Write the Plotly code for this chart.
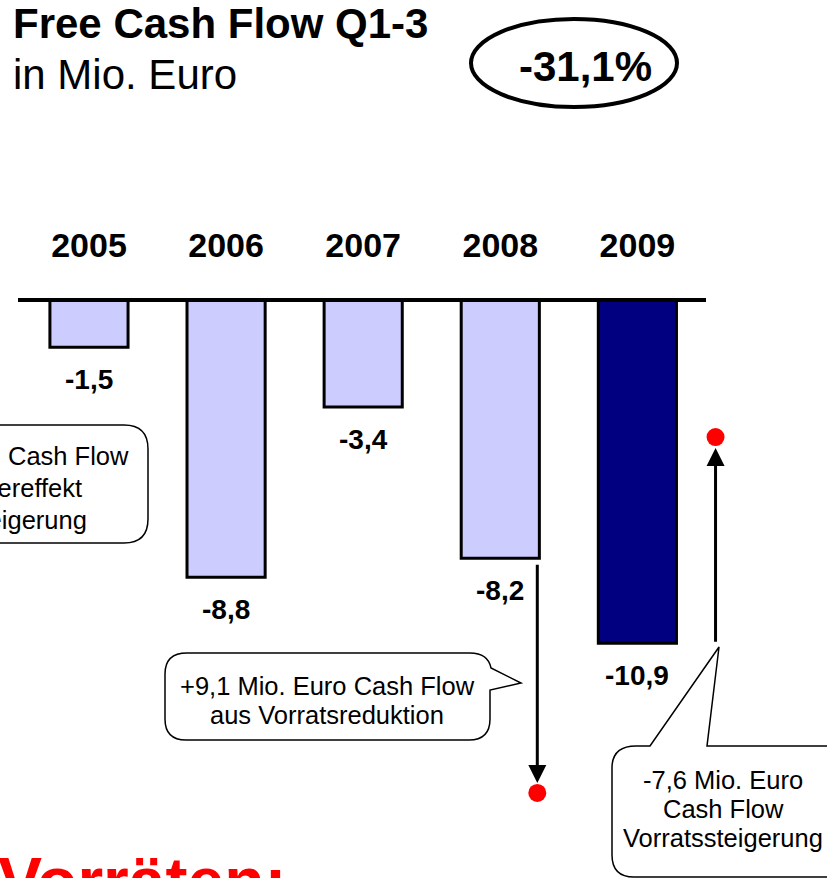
import plotly.graph_objects as go

# Free Cash Flow Q1-3, in Mio. Euro
years = ["2005", "2006", "2007", "2008", "2009"]
fcf = [-1.5, -8.8, -3.4, -8.2, -10.9]

# inventory effect arrows (2008 reduction, 2009 increase)
effect_x = [3.27, 4.57]
effect_from = [fcf[3], fcf[4]]
effect_to = [-15.65, -4.35]

change_label = "-31,1%"

W, H = 827, 878
FONT = "Liberation Sans, Arial, sans-serif"
light = "#CCCCFF"
dark = "#000080"


def px(x):
    return x / W


def py(y):
    return 1 - y / H


def path(points):
    # points in pixels; "Q" entries are (ctrl, end) pairs
    s = ""
    for i, p in enumerate(points):
        if p[0] == "Q":
            (cx, cy), (ex, ey) = p[1], p[2]
            s += f" Q {px(cx):.5f},{py(cy):.5f} {px(ex):.5f},{py(ey):.5f}"
        else:
            s += f" {'M' if i == 0 else 'L'} {px(p[0]):.5f},{py(p[1]):.5f}"
    return s + " Z"


def label(text, x, y, font, xanchor="center", yanchor="middle"):
    return dict(x=px(x), y=py(y), xref="paper", yref="paper", showarrow=False,
                xanchor=xanchor, yanchor=yanchor, text=text, font=font)


idx = list(range(len(years)))
fig = go.Figure()
fig.add_trace(go.Bar(
    x=idx, y=fcf, width=0.57,
    marker=dict(color=[light] * 4 + [dark], line=dict(color="black", width=3)),
    hoverinfo="skip",
))
fig.add_trace(go.Scatter(
    x=effect_x, y=effect_to, mode="markers",
    marker=dict(color="#FF0000", size=18), hoverinfo="skip",
))

annotations = []
# value labels under the bars
for i, v in enumerate(fcf):
    annotations.append(dict(
        x=i, y=v, xref="x", yref="y", yshift=-32, showarrow=False,
        xanchor="center", yanchor="middle",
        text=f"{v:.1f}".replace(".", ","),
        font=dict(family=FONT, size=28, color="black", weight="bold"),
    ))
# arrows to the red dots
for x, a, b, ss, so in zip(effect_x, effect_from, effect_to, [5, 0], [10, 11]):
    annotations.append(dict(
        x=x, y=b, ax=x, ay=a, xref="x", yref="y", axref="x", ayref="y",
        showarrow=True, arrowhead=2, arrowsize=1.2, arrowwidth=3,
        arrowcolor="black", standoff=so, startstandoff=ss, text="",
    ))

# title and change
annotations += [
    label("Free Cash Flow Q1-3", 11, 23,
          dict(family=FONT, size=42, color="black", weight="bold"), xanchor="left"),
    label("in Mio. Euro", 11, 74, dict(family=FONT, size=42, color="black"),
          xanchor="left"),
    label(change_label, 585, 66,
          dict(family=FONT, size=42, color="black", weight="bold")),
]

# callout texts, one line each
small = dict(family=FONT, size=25.5, color="black")
for txt, xr, yc in [("Cash Flow", 131, 456),
                    ("Sondereffekt", 84, 488),
                    ("Vorratssteigerung", 89, 520)]:
    annotations.append(label(txt, xr, yc, small, xanchor="right"))
for txt, yc in [("+9,1 Mio. Euro Cash Flow", 686), ("aus Vorratsreduktion", 715)]:
    annotations.append(label(txt, 327, yc, small))
for txt, yc in [("-7,6 Mio. Euro", 780), ("Cash Flow", 809), ("Vorratssteigerung", 838)]:
    annotations.append(label(txt, 723, yc, small))

# red text at the bottom
annotations.append(label("Vorräten:", 289, 842,
                         dict(family=FONT, size=66, color="#FF0000", weight="bold"),
                         xanchor="right", yanchor="top"))

shapes = [
    # baseline
    dict(type="line", xref="paper", yref="y", x0=px(18), x1=px(706), y0=0, y1=0,
         line=dict(color="black", width=4), layer="above"),
    # ellipse around the change
    dict(type="circle", xref="paper", yref="paper", x0=px(471), x1=px(677),
         y0=py(107), y1=py(19), line=dict(color="black", width=4)),
    # left callout (cut off)
    dict(type="path", xref="paper", yref="paper", line=dict(color="black", width=1.5),
         path=path([(-60, 425), (124, 425), ("Q", (148, 425), (148, 449)),
                    (148, 519), ("Q", (148, 543), (124, 543)), (-60, 543)])),
    # middle callout pointing at the 2008 arrow
    dict(type="path", xref="paper", yref="paper", line=dict(color="black", width=1.5),
         path=path([(187, 653), (470, 653), ("Q", (488, 653), (491, 668)),
                    (521, 683), (490, 690), (490, 719), ("Q", (490, 740), (469, 740)),
                    (186, 740), ("Q", (165, 740), (165, 719)), (165, 674),
                    ("Q", (165, 653), (187, 653))])),
    # right callout pointing at the 2009 arrow
    dict(type="path", xref="paper", yref="paper", line=dict(color="black", width=1.5),
         path=path([(636, 746), (650, 746), (719, 647), (707, 746), (840, 746),
                    (840, 877), (634, 877), ("Q", (612, 877), (612, 855)),
                    (612, 768), ("Q", (612, 746), (636, 746))])),
]

fig.update_layout(
    width=W, height=H,
    margin=dict(l=0, r=0, t=0, b=0),
    paper_bgcolor="white", plot_bgcolor="white",
    showlegend=False,
    xaxis=dict(
        range=[-0.649, 5.383], tickvals=idx, ticktext=years,
        side="top", anchor="free", position=py(300),
        showline=False, showgrid=False, zeroline=False, ticks="",
        ticklabelstandoff=36,
        tickfont=dict(family=FONT, size=34, color="black", weight="bold"),
    ),
    yaxis=dict(range=[(300 - H) / 31.5, 300 / 31.5], visible=False, fixedrange=True),
    annotations=annotations,
    shapes=shapes,
)

fig.write_html("out.html", config={"displayModeBar": False},
               post_script="document.body.style.margin='0';document.body.style.overflow='hidden';")
